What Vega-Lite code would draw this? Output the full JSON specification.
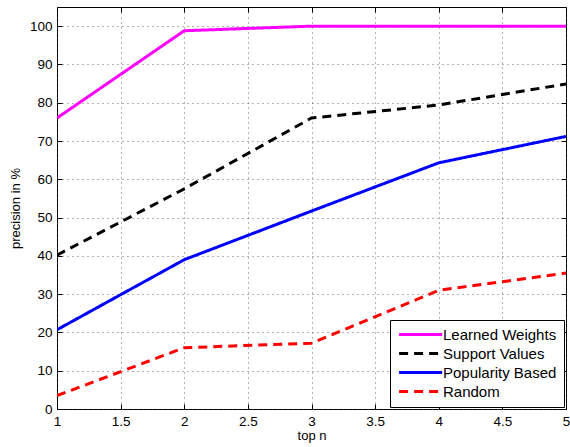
{
  "$schema": "https://vega.github.io/schema/vega-lite/v6.json",
  "autosize": {"type": "none"},
  "width": 509,
  "height": 402,
  "padding": {"left": 57, "top": 7, "right": 4, "bottom": 38},
  "background": "white",
  "config": {
    "font": "Liberation Sans",
    "view": {"stroke": "black", "strokeWidth": 1},
    "axis": {
      "labelFont": "Liberation Sans",
      "titleFont": "Liberation Sans",
      "labelFontSize": 13.5,
      "titleFontSize": 13,
      "titleFontWeight": "normal",
      "labelColor": "black",
      "titleColor": "black",
      "domain": false,
      "tickColor": "black",
      "tickSize": -5,
      "gridColor": "#444444",
      "gridDash": [1, 4],
      "gridOpacity": 0.8
    }
  },
  "data": {
    "values": [
      {"n": 1, "v": 76.0, "s": "Learned Weights"},
      {"n": 2, "v": 98.8, "s": "Learned Weights"},
      {"n": 3, "v": 100, "s": "Learned Weights"},
      {"n": 4, "v": 100, "s": "Learned Weights"},
      {"n": 5, "v": 100, "s": "Learned Weights"},
      {"n": 1, "v": 40.2, "s": "Support Values"},
      {"n": 2, "v": 57.5, "s": "Support Values"},
      {"n": 3, "v": 76.0, "s": "Support Values"},
      {"n": 4, "v": 79.4, "s": "Support Values"},
      {"n": 5, "v": 84.9, "s": "Support Values"},
      {"n": 1, "v": 20.7, "s": "Popularity Based"},
      {"n": 2, "v": 39.0, "s": "Popularity Based"},
      {"n": 3, "v": 51.7, "s": "Popularity Based"},
      {"n": 4, "v": 64.3, "s": "Popularity Based"},
      {"n": 5, "v": 71.2, "s": "Popularity Based"},
      {"n": 1, "v": 3.5, "s": "Random"},
      {"n": 2, "v": 16.0, "s": "Random"},
      {"n": 3, "v": 17.2, "s": "Random"},
      {"n": 4, "v": 31.0, "s": "Random"},
      {"n": 5, "v": 35.5, "s": "Random"}
    ]
  },
  "layer": [
    {
      "mark": {"type": "line", "strokeWidth": 3, "clip": true},
      "encoding": {
        "x": {
          "field": "n", "type": "quantitative",
          "scale": {"domain": [1, 5], "nice": false, "zero": false},
          "axis": {"title": "top n", "values": [1, 1.5, 2, 2.5, 3, 3.5, 4, 4.5, 5], "format": "~g", "labelFlush": false, "titlePadding": 2, "labelPadding": 10, "orient": "bottom"}
        },
        "y": {
          "field": "v", "type": "quantitative",
          "scale": {"domain": [0, 105], "nice": false},
          "axis": {"title": "precision in %", "values": [0, 10, 20, 30, 40, 50, 60, 70, 80, 90, 100], "titlePadding": 7, "labelPadding": 10, "orient": "left"}
        },
        "color": {
          "field": "s", "type": "nominal",
          "scale": {"domain": ["Learned Weights", "Support Values", "Popularity Based", "Random"], "range": ["#ff00ff", "#000000", "#0000ff", "#ff0000"]},
          "legend": {
            "title": null, "orient": "bottom-right", "offset": 2,
            "strokeColor": "black", "fillColor": "white", "padding": 7,
            "labelFontSize": 15, "labelFont": "Liberation Sans", "labelColor": "black",
            "symbolType": "M-1,0H7", "symbolSize": 116, "symbolStrokeWidth": 3,
            "rowPadding": 3, "labelOffset": 31
          }
        },
        "strokeDash": {
          "field": "s", "type": "nominal",
          "scale": {"domain": ["Learned Weights", "Support Values", "Popularity Based", "Random"], "range": [[1, 0], [9, 6], [1, 0], [9, 6]]},
          "legend": {
            "title": null, "orient": "bottom-right", "offset": 2,
            "strokeColor": "black", "fillColor": "white", "padding": 7,
            "labelFontSize": 15, "labelFont": "Liberation Sans", "labelColor": "black",
            "symbolType": "M-1,0H7", "symbolSize": 116, "symbolStrokeWidth": 3,
            "rowPadding": 3, "labelOffset": 31
          }
        }
      }
    },
    {
      "mark": {"type": "point", "opacity": 0},
      "encoding": {
        "x": {
          "field": "n", "type": "quantitative",
          "scale": {"domain": [1, 5], "nice": false, "zero": false},
          "axis": {"title": null, "values": [1, 1.5, 2, 2.5, 3, 3.5, 4, 4.5, 5], "labels": false, "grid": false, "orient": "top"}
        },
        "y": {
          "field": "v", "type": "quantitative",
          "scale": {"domain": [0, 105], "nice": false},
          "axis": {"title": null, "values": [0, 10, 20, 30, 40, 50, 60, 70, 80, 90, 100], "labels": false, "grid": false, "orient": "right"}
        }
      }
    }
  ],
  "resolve": {"axis": {"x": "independent", "y": "independent"}}
}
